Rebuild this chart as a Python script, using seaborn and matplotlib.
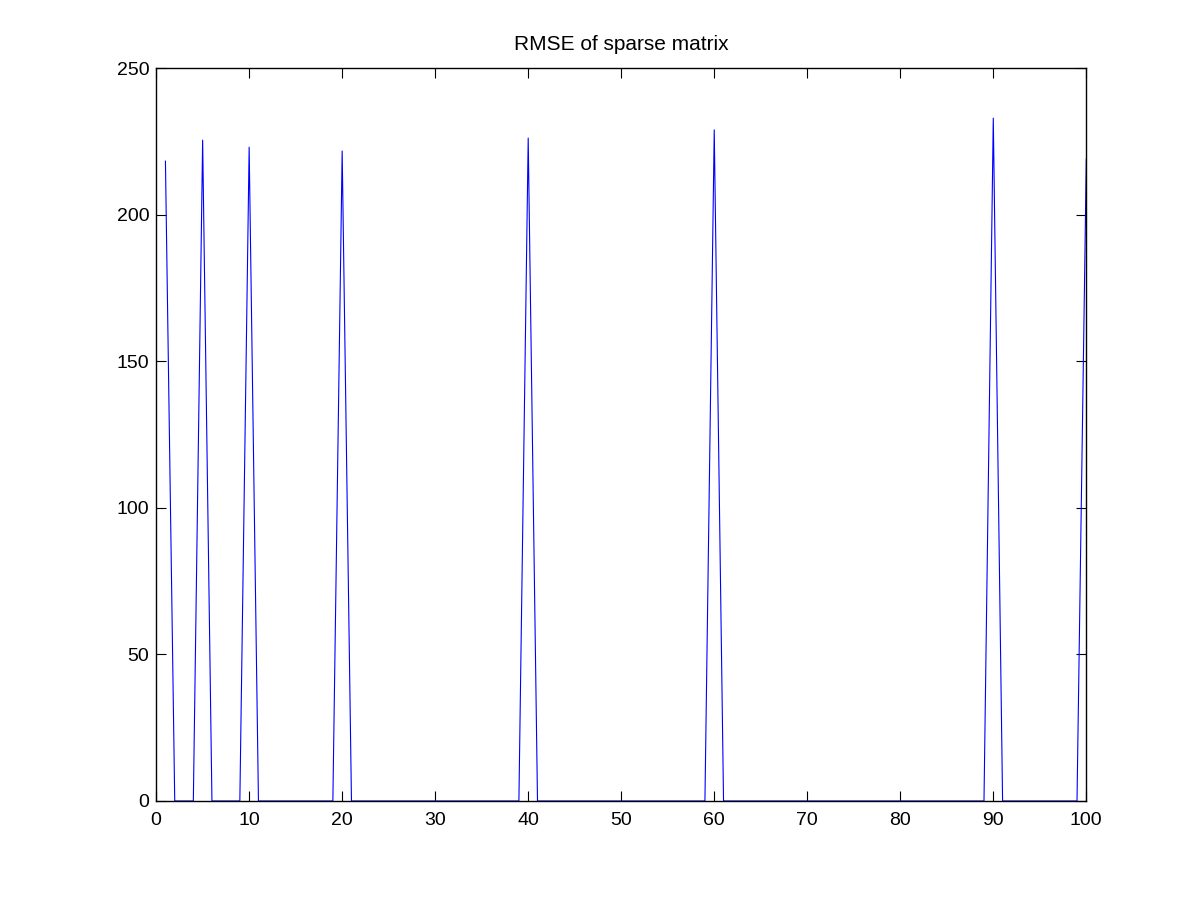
import numpy as np
import pandas as pd
import matplotlib
matplotlib.use("Agg")
import matplotlib.pyplot as plt
import seaborn as sns

# Data: RMSE values at iterations 1..100 (zero except at a few points)
peak_x = [1, 5, 10, 20, 40, 60, 90, 100]
peak_y = [218.3, 225.4, 223.0, 221.7, 226.1, 228.9, 232.9, 219.0]
x_vals = list(range(1, 101))

rmse = [0.0] * len(x_vals)
for px, py in zip(peak_x, peak_y):
    rmse[x_vals.index(px)] = py

df = pd.DataFrame({"iteration": x_vals, "rmse": rmse})

sns.set_style("white")
plt.rcParams["font.family"] = ["Liberation Sans", "DejaVu Sans"]

fig = plt.figure(figsize=(12.01, 9.01), dpi=100)
ax = fig.add_axes([0.13, 0.111, 0.7745, 0.8135])

sns.lineplot(data=df, x="iteration", y="rmse", ax=ax, color="#0000ff",
             linewidth=0.8, estimator=None, sort=False, zorder=1)

ax.set_xlim(0, 100)
ax.set_ylim(0, 250)
ax.set_xticks(range(0, 101, 10))
ax.set_yticks(range(0, 251, 50))
ax.set_xlabel("")
ax.set_ylabel("")
ax.set_title("RMSE of sparse matrix", fontsize=15, pad=13, color="black")

for s in ax.spines.values():
    s.set_visible(True)
    s.set_color("black")
    s.set_linewidth(1.0)
    s.set_zorder(5)

ax.tick_params(axis="both", direction="in", length=7.2, width=0.8,
               bottom=True, left=True, top=True, right=True,
               labelsize=14, colors="black")
ax.tick_params(axis="x", pad=8)
ax.tick_params(axis="y", pad=5)

fig.savefig("out.png", dpi=100, facecolor="white")
